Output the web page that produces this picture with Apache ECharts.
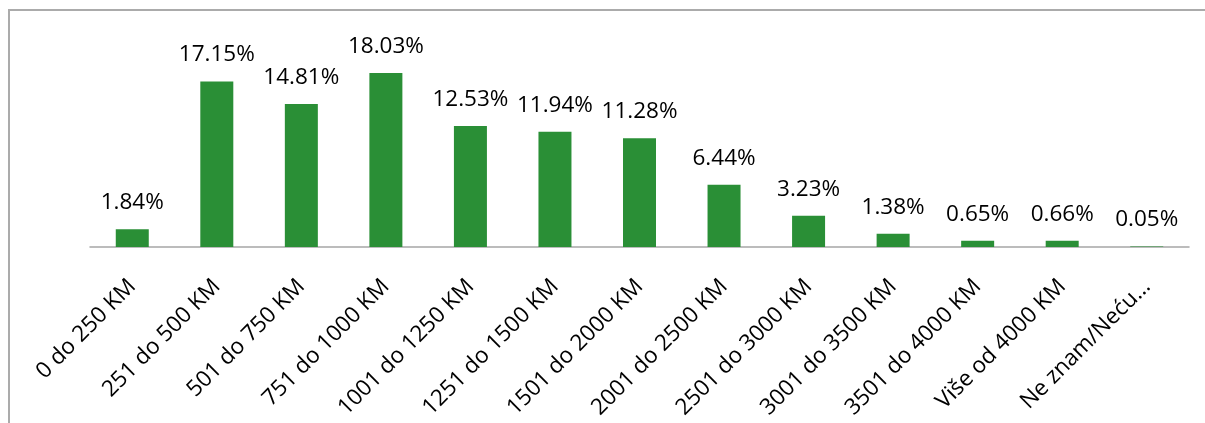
<!DOCTYPE html>
<html><head><meta charset="utf-8">
<script src="https://cdn.jsdelivr.net/npm/echarts@6/dist/echarts.min.js"></script>
<style>html,body{margin:0;padding:0;background:#fff}#c{width:1205px;height:423px}</style>
</head><body><div id="c"></div>
<script>
const categories = ['0 do 250 KM','251 do 500 KM','501 do 750 KM','751 do 1000 KM','1001 do 1250 KM','1251 do 1500 KM','1501 do 2000 KM','2001 do 2500 KM','2501 do 3000 KM','3001 do 3500 KM','3501 do 4000 KM','Više od 4000 KM','Ne znam/Neću…'];
const values = [1.84,17.15,14.81,18.03,12.53,11.94,11.28,6.44,3.23,1.38,0.65,0.66,0.05];
const FONT = '"Open Sans", "Noto Sans", sans-serif';
const chart = echarts.init(document.getElementById('c'));
chart.setOption({
  animation:false,
  graphic:[{type:'rect',shape:{x:9,y:10,width:1400,height:600},style:{fill:'none',stroke:'#ababab',lineWidth:2},silent:true}],
  grid:{left:90,right:16,top:54,bottom:176},
  xAxis:{type:'category',data:categories,
    axisLine:{lineStyle:{color:'#a6a6a6',width:1.5}},axisTick:{show:false},
    axisLabel:{rotate:45,interval:0,margin:36,color:'#000',fontSize:22.5,fontFamily:FONT}},
  yAxis:{type:'value',min:0,max:20,show:false,splitLine:{show:false}},
  series:[{type:'bar',data:values,barWidth:33,itemStyle:{color:'#2a8f36'},
    label:{show:true,position:'top',distance:15,color:'#000',fontSize:22.5,fontFamily:FONT,formatter:p=>p.value.toFixed(2)+'%'}}]
});
</script></body></html>
